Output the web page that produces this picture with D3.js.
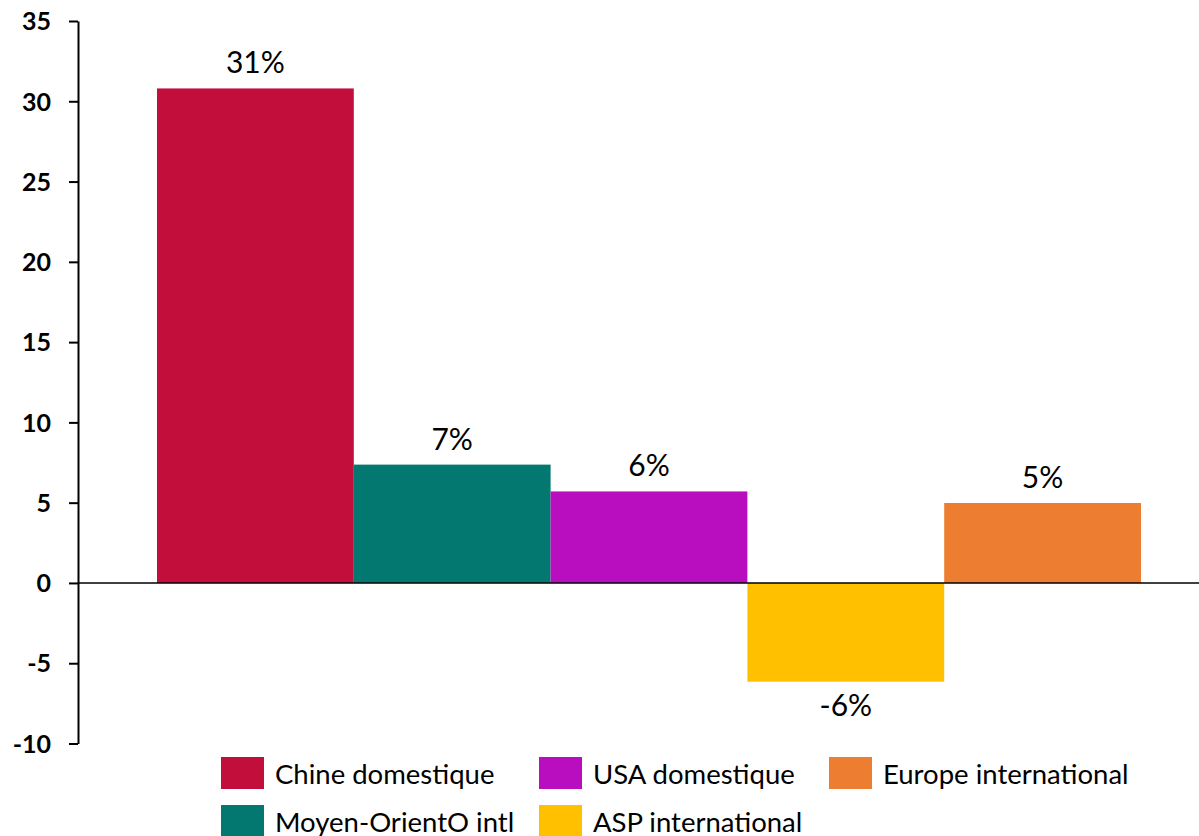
<!DOCTYPE html>
<html>
<head>
<meta charset="utf-8">
<script src="https://cdn.jsdelivr.net/npm/d3@7"></script>
<style>
  body { margin: 0; background: #fff; }
  svg { display: block; font-family: Lato, "Open Sans", sans-serif; }
</style>
</head>
<body>
<div id="svg"></div>
<script>
var width = 1199;
var height = 836;

// data
var categories = ['Chine domestique', 'Moyen-OrientO intl', 'USA domestique', 'ASP international', 'Europe international'];
var values = [30.8, 7.37, 5.7, -6.15, 4.98];
var value_labels = ['31%', '7%', '6%', '-6%', '5%'];
var colors = ['#C20E3B', '#037870', '#B90DC0', '#FFC000', '#ED7D31'];
var y_ticks = [-10, -5, 0, 5, 10, 15, 20, 25, 30, 35];

// legend order as drawn (two rows)
var legend_order = [0, 2, 4, 1, 3];

var canvas = d3.select('#svg')
	.append('svg')
	.attr('width', width)
	.attr('height', height);

function main()
{
	render();
}

function render()
{
	var y = d3.scaleLinear()
		.domain([-10, 35])
		.range([743.5, 21]);

	var x = d3.scaleBand()
		.domain(categories)
		.range([157, 1141])
		.paddingInner(0)
		.paddingOuter(0);

	var color = d3.scaleOrdinal()
		.domain(categories)
		.range(colors);

	var data = categories.map((c, i) => ({ name: c, value: values[i], label: value_labels[i] }));

	// bars
	canvas.append('g')
		.selectAll('rect')
		.data(data)
		.enter().append('rect')
			.attr('x', (d) => x(d.name))
			.attr('width', x.bandwidth())
			.attr('y', (d) => y(Math.max(0, d.value)))
			.attr('height', (d) => Math.abs(y(d.value) - y(0)))
			.attr('fill', (d) => color(d.name));

	// zero line
	canvas.append('line')
		.attr('x1', 78).attr('x2', width)
		.attr('y1', y(0)).attr('y2', y(0))
		.attr('stroke', '#000')
		.attr('stroke-width', 1.5);

	// y axis
	var axis = canvas.append('g')
		.attr('transform', 'translate(78,0)')
		.call(d3.axisLeft(y)
			.tickValues(y_ticks)
			.tickFormat((d) => String(d))
			.tickSize(9).tickPadding(18).tickSizeOuter(0));
	axis.select('.domain').attr('stroke', '#000').attr('stroke-width', 2);
	axis.selectAll('.tick line').attr('stroke', '#000').attr('stroke-width', 2);
	axis.selectAll('.tick text')
		.attr('fill', '#000')
		.style('font-family', 'Lato, sans-serif')
		.style('font-size', '25px')
		.style('font-weight', 'bold')
		.attr('dy', '0.35em');

	// value labels
	canvas.append('g')
		.selectAll('text')
		.data(data)
		.enter().append('text')
			.attr('x', (d) => x(d.name) + x.bandwidth() / 2)
			.attr('y', (d) => d.value >= 0 ? y(d.value) - 15 : y(d.value) + 34)
			.attr('text-anchor', 'middle')
			.style('font-size', '30px')
			.attr('fill', '#000')
			.text((d) => d.label);

	// legend
	var legend_x = [221, 539, 829];
	var legend_y = [757, 805];
	var legend = canvas.append('g')
		.selectAll('g')
		.data(legend_order)
		.enter().append('g')
			.attr('transform', (d, i) => 'translate(' + legend_x[i % 3] + ',' + legend_y[Math.floor(i / 3)] + ')');

	legend.append('rect')
		.attr('width', 43)
		.attr('height', 32)
		.attr('fill', (d) => colors[d]);

	legend.append('text')
		.attr('x', 54)
		.attr('y', 27)
		.style('font-size', '27.5px')
		.attr('fill', '#000')
		.text((d) => categories[d]);
}

main();
</script>
</body>
</html>
